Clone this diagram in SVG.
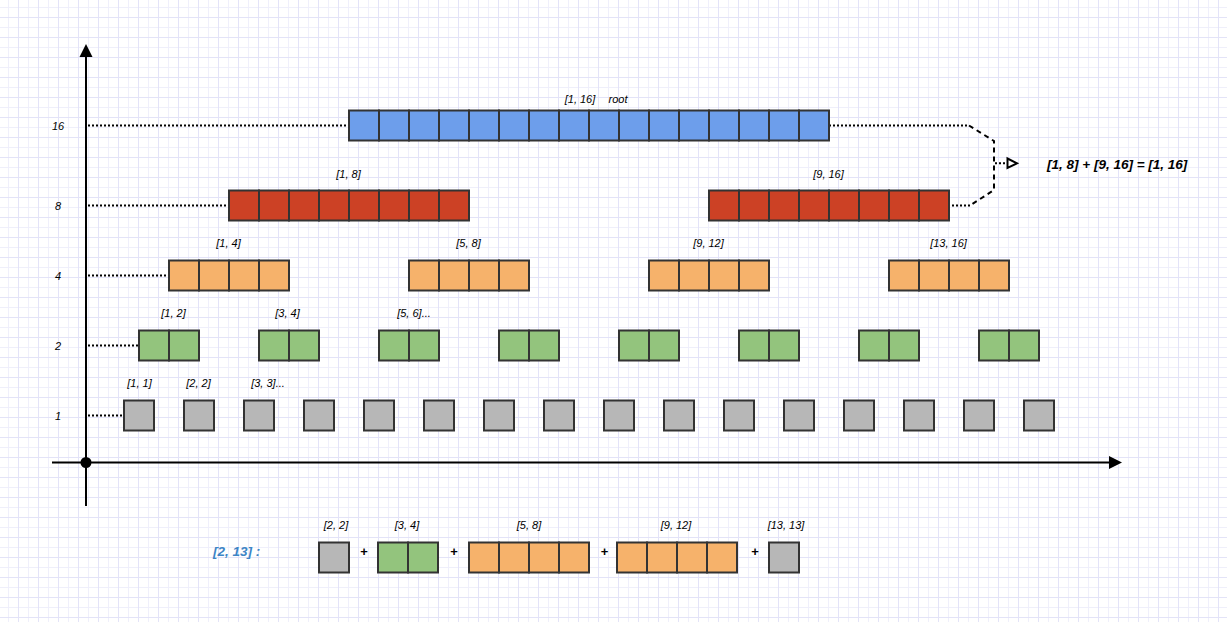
<svg xmlns="http://www.w3.org/2000/svg" width="1227" height="622" viewBox="0 0 1227 622">
<defs>
<pattern id="grid" x="8" y="7" width="20" height="20" patternUnits="userSpaceOnUse">
<rect x="0" y="0" width="1" height="20" fill="#efeffb"/>
<rect x="0" y="0" width="20" height="1" fill="#efeffb"/>
<rect x="10" y="0" width="1" height="20" fill="#e3e3f8"/>
<rect x="0" y="10" width="20" height="1" fill="#e3e3f8"/>
</pattern>
</defs>
<style>
.c{stroke:#333333;stroke-width:2}
.b{fill:#6d9eeb}.r{fill:#cc4125}.o{fill:#f6b26b}.g{fill:#93c47d}.k{fill:#b7b7b7}
text{font-family:"Liberation Sans",Arial,Helvetica,sans-serif;font-style:italic;fill:#000}
.l{font-size:11px;text-anchor:middle;dominant-baseline:central}
.lv{font-size:11px;text-anchor:middle;dominant-baseline:central}
.p{font-size:13px;font-weight:bold;font-style:normal;text-anchor:middle;dominant-baseline:central}
.dot{fill:none;stroke:#000;stroke-width:2;stroke-dasharray:2 2}
.dash{fill:none;stroke:#000;stroke-width:2;stroke-dasharray:5 4}
.ax{fill:none;stroke:#000;stroke-width:2}
</style>
<rect width="1227" height="622" fill="#ffffff"/>
<rect width="1227" height="622" fill="url(#grid)"/>

<g id="axes">
<line class="ax" x1="86" y1="55" x2="86" y2="506"/>
<polygon points="86,44 79.5,57 92.5,57" fill="#000"/>
<line class="ax" x1="52" y1="462.5" x2="1110" y2="462.5"/>
<polygon points="1122,462.5 1109,456 1109,469" fill="#000"/>
<circle cx="86" cy="462.5" r="5.5" fill="#000"/>
<text class="lv" x="58" y="126">16</text>
<text class="lv" x="58" y="206">8</text>
<text class="lv" x="58" y="276">4</text>
<text class="lv" x="58" y="346">2</text>
<text class="lv" x="58" y="416">1</text>
</g>

<g id="connectors">
<line class="dot" x1="88" y1="125.5" x2="349" y2="125.5"/>
<line class="dot" x1="88" y1="205.5" x2="229" y2="205.5"/>
<line class="dot" x1="88" y1="275.5" x2="169" y2="275.5"/>
<line class="dot" x1="88" y1="345.5" x2="139" y2="345.5"/>
<line class="dot" x1="88" y1="415.5" x2="124" y2="415.5"/>
<line class="dot" x1="829" y1="125.5" x2="969" y2="125.5"/>
<polyline class="dash" points="969,125.5 994,141 994,190 970,205.5"/>
<line class="dot" x1="970" y1="205.5" x2="949" y2="205.5"/>
<line class="dot" x1="995" y1="163.3" x2="1007" y2="163.3"/>
<polygon points="1007.5,158.5 1017,163.3 1007.5,168" fill="#fff" stroke="#000" stroke-width="2"/>
</g>

<g id="n16">
<rect class="c b" x="349" y="110.5" width="30" height="30"/><rect class="c b" x="379" y="110.5" width="30" height="30"/><rect class="c b" x="409" y="110.5" width="30" height="30"/><rect class="c b" x="439" y="110.5" width="30" height="30"/><rect class="c b" x="469" y="110.5" width="30" height="30"/><rect class="c b" x="499" y="110.5" width="30" height="30"/><rect class="c b" x="529" y="110.5" width="30" height="30"/><rect class="c b" x="559" y="110.5" width="30" height="30"/><rect class="c b" x="589" y="110.5" width="30" height="30"/><rect class="c b" x="619" y="110.5" width="30" height="30"/><rect class="c b" x="649" y="110.5" width="30" height="30"/><rect class="c b" x="679" y="110.5" width="30" height="30"/><rect class="c b" x="709" y="110.5" width="30" height="30"/><rect class="c b" x="739" y="110.5" width="30" height="30"/><rect class="c b" x="769" y="110.5" width="30" height="30"/><rect class="c b" x="799" y="110.5" width="30" height="30"/>
<text class="l" x="580" y="99">[1, 16]</text><text class="l" x="618" y="99">root</text>
</g>

<g id="n8a">
<rect class="c r" x="229" y="190.5" width="30" height="30"/><rect class="c r" x="259" y="190.5" width="30" height="30"/><rect class="c r" x="289" y="190.5" width="30" height="30"/><rect class="c r" x="319" y="190.5" width="30" height="30"/><rect class="c r" x="349" y="190.5" width="30" height="30"/><rect class="c r" x="379" y="190.5" width="30" height="30"/><rect class="c r" x="409" y="190.5" width="30" height="30"/><rect class="c r" x="439" y="190.5" width="30" height="30"/>
<text class="l" x="348.5" y="174">[1, 8]</text>
</g>
<g id="n8b">
<rect class="c r" x="709" y="190.5" width="30" height="30"/><rect class="c r" x="739" y="190.5" width="30" height="30"/><rect class="c r" x="769" y="190.5" width="30" height="30"/><rect class="c r" x="799" y="190.5" width="30" height="30"/><rect class="c r" x="829" y="190.5" width="30" height="30"/><rect class="c r" x="859" y="190.5" width="30" height="30"/><rect class="c r" x="889" y="190.5" width="30" height="30"/><rect class="c r" x="919" y="190.5" width="30" height="30"/>
<text class="l" x="828.5" y="174">[9, 16]</text>
</g>

<g id="n4a"><rect class="c o" x="169" y="260.5" width="30" height="30"/><rect class="c o" x="199" y="260.5" width="30" height="30"/><rect class="c o" x="229" y="260.5" width="30" height="30"/><rect class="c o" x="259" y="260.5" width="30" height="30"/><text class="l" x="228.5" y="243">[1, 4]</text></g>
<g id="n4b"><rect class="c o" x="409" y="260.5" width="30" height="30"/><rect class="c o" x="439" y="260.5" width="30" height="30"/><rect class="c o" x="469" y="260.5" width="30" height="30"/><rect class="c o" x="499" y="260.5" width="30" height="30"/><text class="l" x="468.5" y="243">[5, 8]</text></g>
<g id="n4c"><rect class="c o" x="649" y="260.5" width="30" height="30"/><rect class="c o" x="679" y="260.5" width="30" height="30"/><rect class="c o" x="709" y="260.5" width="30" height="30"/><rect class="c o" x="739" y="260.5" width="30" height="30"/><text class="l" x="708.5" y="243">[9, 12]</text></g>
<g id="n4d"><rect class="c o" x="889" y="260.5" width="30" height="30"/><rect class="c o" x="919" y="260.5" width="30" height="30"/><rect class="c o" x="949" y="260.5" width="30" height="30"/><rect class="c o" x="979" y="260.5" width="30" height="30"/><text class="l" x="948.5" y="243">[13, 16]</text></g>

<g id="n2a"><rect class="c g" x="139" y="330.5" width="30" height="30"/><rect class="c g" x="169" y="330.5" width="30" height="30"/><text class="l" x="173.5" y="313">[1, 2]</text></g>
<g id="n2b"><rect class="c g" x="259" y="330.5" width="30" height="30"/><rect class="c g" x="289" y="330.5" width="30" height="30"/><text class="l" x="287.5" y="313">[3, 4]</text></g>
<g id="n2c"><rect class="c g" x="379" y="330.5" width="30" height="30"/><rect class="c g" x="409" y="330.5" width="30" height="30"/><text class="l" x="414" y="313">[5, 6]...</text></g>
<g id="n2d"><rect class="c g" x="499" y="330.5" width="30" height="30"/><rect class="c g" x="529" y="330.5" width="30" height="30"/></g>
<g id="n2e"><rect class="c g" x="619" y="330.5" width="30" height="30"/><rect class="c g" x="649" y="330.5" width="30" height="30"/></g>
<g id="n2f"><rect class="c g" x="739" y="330.5" width="30" height="30"/><rect class="c g" x="769" y="330.5" width="30" height="30"/></g>
<g id="n2g"><rect class="c g" x="859" y="330.5" width="30" height="30"/><rect class="c g" x="889" y="330.5" width="30" height="30"/></g>
<g id="n2h"><rect class="c g" x="979" y="330.5" width="30" height="30"/><rect class="c g" x="1009" y="330.5" width="30" height="30"/></g>

<g id="n1a"><rect class="c k" x="124" y="400.5" width="30" height="30"/><text class="l" x="139.5" y="383">[1, 1]</text></g>
<g id="n1b"><rect class="c k" x="184" y="400.5" width="30" height="30"/><text class="l" x="198.5" y="383">[2, 2]</text></g>
<g id="n1c"><rect class="c k" x="244" y="400.5" width="30" height="30"/><text class="l" x="268" y="383">[3, 3]...</text></g>
<g id="n1d"><rect class="c k" x="304" y="400.5" width="30" height="30"/></g>
<g id="n1e"><rect class="c k" x="364" y="400.5" width="30" height="30"/></g>
<g id="n1f"><rect class="c k" x="424" y="400.5" width="30" height="30"/></g>
<g id="n1g"><rect class="c k" x="484" y="400.5" width="30" height="30"/></g>
<g id="n1h"><rect class="c k" x="544" y="400.5" width="30" height="30"/></g>
<g id="n1i"><rect class="c k" x="604" y="400.5" width="30" height="30"/></g>
<g id="n1j"><rect class="c k" x="664" y="400.5" width="30" height="30"/></g>
<g id="n1k"><rect class="c k" x="724" y="400.5" width="30" height="30"/></g>
<g id="n1l"><rect class="c k" x="784" y="400.5" width="30" height="30"/></g>
<g id="n1m"><rect class="c k" x="844" y="400.5" width="30" height="30"/></g>
<g id="n1n"><rect class="c k" x="904" y="400.5" width="30" height="30"/></g>
<g id="n1o"><rect class="c k" x="964" y="400.5" width="30" height="30"/></g>
<g id="n1p"><rect class="c k" x="1024" y="400.5" width="30" height="30"/></g>

<g id="merge-label">
<text x="1047" y="164" font-size="13.5" font-weight="bold" dominant-baseline="central">[1, 8] + [9, 16] = [1, 16]</text>
</g>

<g id="query">
<text x="213" y="551.5" font-size="13.5" font-weight="bold" fill="#3d85c6" style="fill:#3d85c6" dominant-baseline="central">[2, 13] :</text>
<g id="q1"><rect class="c k" x="319" y="542.5" width="30" height="30"/><text class="l" x="336" y="525">[2, 2]</text></g>
<text class="p" x="364" y="551">+</text>
<g id="q2"><rect class="c g" x="378" y="542.5" width="30" height="30"/><rect class="c g" x="408" y="542.5" width="30" height="30"/><text class="l" x="407" y="525">[3, 4]</text></g>
<text class="p" x="454" y="551">+</text>
<g id="q3"><rect class="c o" x="469" y="542.5" width="30" height="30"/><rect class="c o" x="499" y="542.5" width="30" height="30"/><rect class="c o" x="529" y="542.5" width="30" height="30"/><rect class="c o" x="559" y="542.5" width="30" height="30"/><text class="l" x="529" y="525">[5, 8]</text></g>
<text class="p" x="604.5" y="551">+</text>
<g id="q4"><rect class="c o" x="617" y="542.5" width="30" height="30"/><rect class="c o" x="647" y="542.5" width="30" height="30"/><rect class="c o" x="677" y="542.5" width="30" height="30"/><rect class="c o" x="707" y="542.5" width="30" height="30"/><text class="l" x="676" y="525">[9, 12]</text></g>
<text class="p" x="755" y="551">+</text>
<g id="q5"><rect class="c k" x="769" y="542.5" width="30" height="30"/><text class="l" x="786" y="525">[13, 13]</text></g>
</g>
</svg>
